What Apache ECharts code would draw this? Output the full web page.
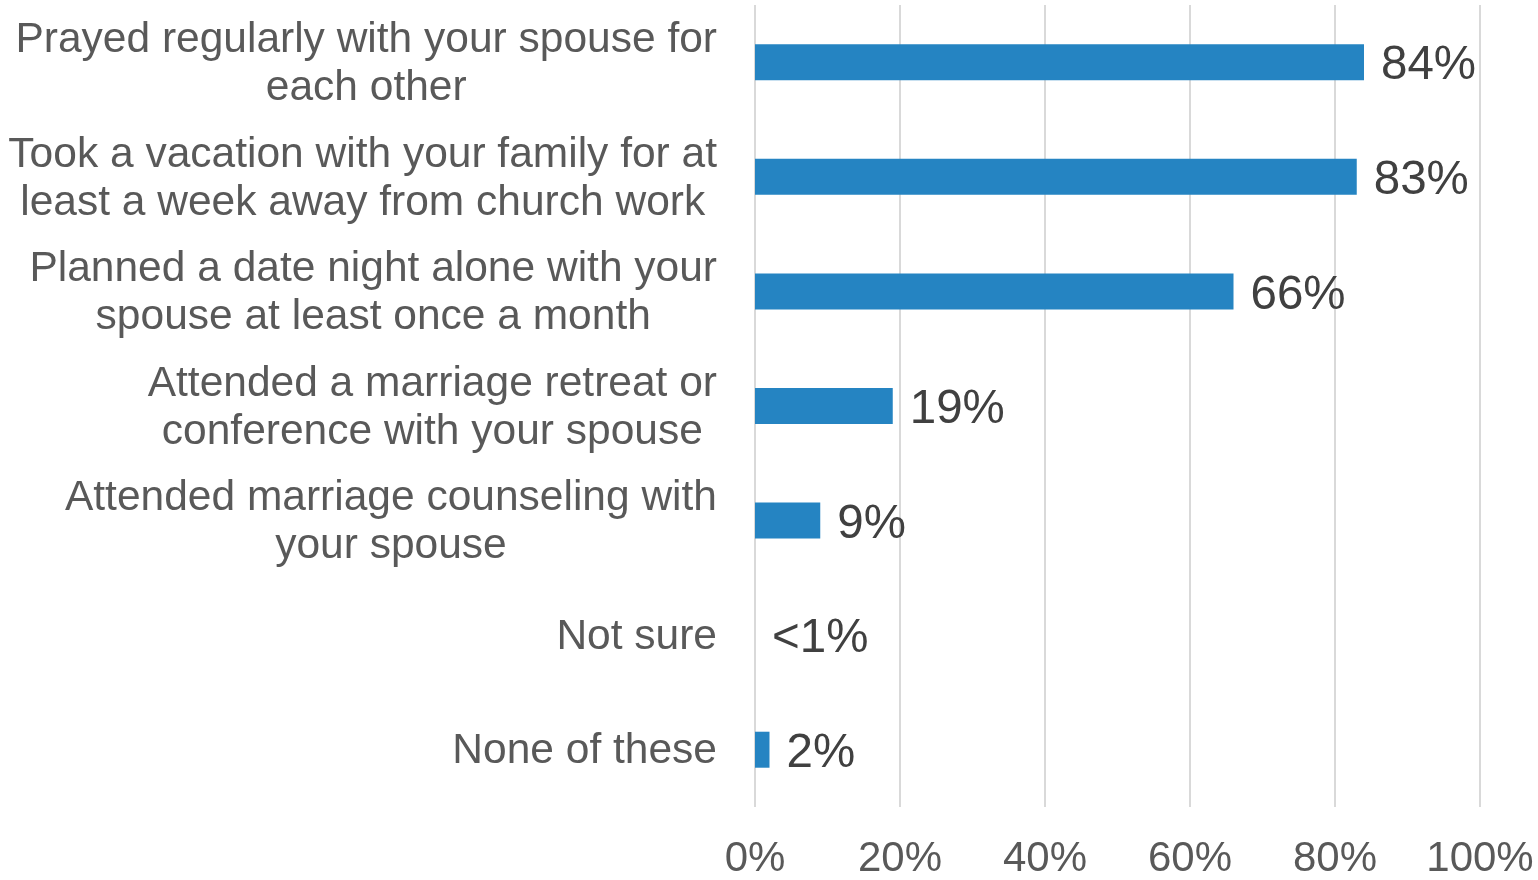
<!DOCTYPE html>
<html>
<head>
<meta charset="utf-8">
<script src="https://cdn.jsdelivr.net/npm/echarts@6/dist/echarts.min.js"></script>
<style>html,body{margin:0;padding:0;background:#fff}#c{width:1538px;height:880px}</style>
</head>
<body>
<div id="c"></div>
<script>
const categories = [
  'Prayed regularly with your spouse for\neach other',
  'Took a vacation with your family for at\nleast a week away from church work',
  'Planned a date night alone with your\nspouse at least once a month',
  'Attended a marriage retreat or\nconference with your spouse',
  'Attended marriage counseling with\nyour spouse',
  'Not sure',
  'None of these'
];
const values = [84, 83, 66, 19, 9, 0, 2];
const valueLabels = ['84%', '83%', '66%', '19%', '9%', '<1%', '2%'];
const xTicks = [0, 20, 40, 60, 80, 100];

const chart = echarts.init(document.getElementById('c'), null, {renderer: 'canvas'});
chart.setOption({
  animation: false,
  backgroundColor: '#ffffff',
  grid: {left: 755, right: 58, top: 5, bottom: 72, containLabel: false},
  xAxis: {
    type: 'value', min: 0, max: 100, interval: 20,
    axisLine: {show: false}, axisTick: {show: false},
    splitLine: {show: true, lineStyle: {color: '#d9d9d9', width: 2}},
    axisLabel: {
      formatter: v => v + '%',
      color: '#595959', fontSize: 42,
      fontFamily: '"Liberation Sans Narrow", "Liberation Sans", Arial, sans-serif',
      margin: 31
    }
  },
  yAxis: {
    type: 'category', data: categories, inverse: true,
    axisLine: {show: false}, axisTick: {show: false},
    axisLabel: {
      margin: 38,
      padding: [4, 0, 0, 0],
      formatter: v => v.split('\n').map(l => '{c|' + l + '}').join('\n'),
      rich: {c: {align: 'center', color: '#595959', fontSize: 42.5, lineHeight: 48,
        fontFamily: '"Liberation Sans", Arial, sans-serif'}}
    }
  },
  series: [{
    type: 'bar', data: values, barWidth: 36,
    itemStyle: {color: '#2584c2'},
    label: {
      show: true, position: 'right', distance: 17,
      offset: [0, 4],
      formatter: p => valueLabels[p.dataIndex],
      color: '#404040', fontSize: 47.5,
      fontFamily: '"Liberation Sans", Arial, sans-serif'
    }
  }]
});
</script>
</body>
</html>
